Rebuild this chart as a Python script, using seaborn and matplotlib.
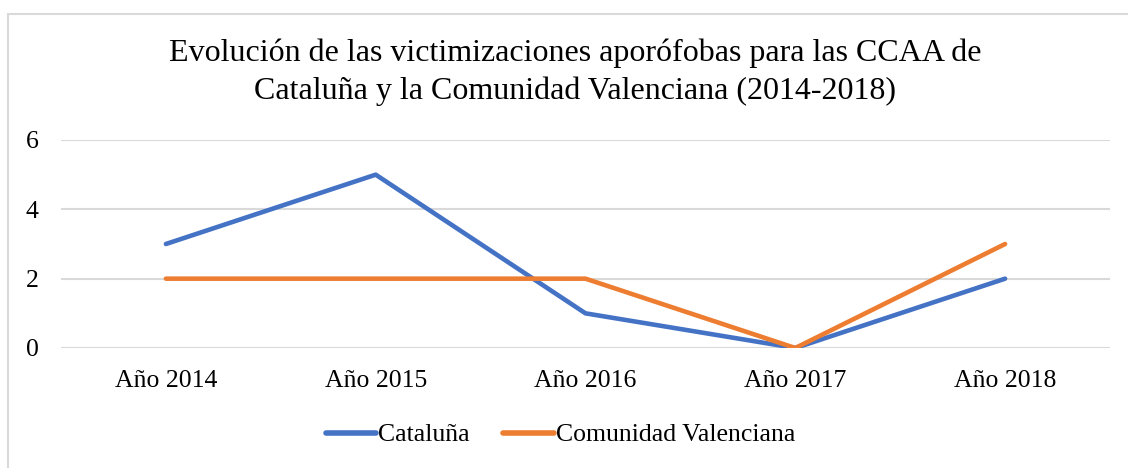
import matplotlib
matplotlib.use("Agg")
import matplotlib.pyplot as plt
import matplotlib.patches as mpatches
import pandas as pd
import seaborn as sns

# data
years = ["Año 2014", "Año 2015", "Año 2016", "Año 2017", "Año 2018"]
cataluna = [3, 5, 1, 0, 2]
valenciana = [2, 2, 2, 0, 3]
series_names = ["Cataluña", "Comunidad Valenciana"]
yticks = [0, 2, 4, 6]

df = pd.DataFrame({
    "year": years * 2,
    "value": cataluna + valenciana,
    "region": [series_names[0]] * len(years) + [series_names[1]] * len(years),
})

sns.set_style("white")
plt.rcParams["font.family"] = ["Liberation Serif", "DejaVu Serif"]
plt.rcParams["text.color"] = "black"

fig = plt.figure(figsize=(11.28, 4.68), dpi=100)
ax = fig.add_axes([61 / 1128, 1 - 348 / 468, (1110 - 61) / 1128, (348 - 140) / 468])

sns.lineplot(data=df, x="year", y="value", hue="region", sort=False,
             palette=["#4472C4", "#ED7D31"], linewidth=3.3, ax=ax, legend=False)

ax.set_xlim(-0.5, len(years) - 0.5)
ax.set_ylim(0, 6)
ax.set_yticks(yticks)
ax.set_xlabel("")
ax.set_ylabel("")
for s in ax.spines.values():
    s.set_visible(False)
ax.yaxis.grid(True, color="#d9d9d9", linewidth=1.5)
ax.set_axisbelow(True)
ax.tick_params(axis="both", length=0, labelsize=18.5, colors="black")
ax.tick_params(axis="x", pad=16)
ax.tick_params(axis="y", pad=16)

fig.text(0.51, 1 - 72 / 468,
         "Evolución de las victimizaciones aporófobas para las CCAA de\n"
         "Cataluña y la Comunidad Valenciana (2014-2018)",
         ha="center", va="center", fontsize=23, linespacing=1.36, color="black")

handles = [plt.Line2D([], [], color=c, linewidth=4, solid_capstyle="round")
           for c in ["#4472C4", "#ED7D31"]]
fig.legend(handles, series_names, loc="center", bbox_to_anchor=(0.497, 1 - 435 / 468),
           ncol=2, frameon=False, fontsize=18.5, handlelength=1.95,
           handletextpad=0.1, columnspacing=1.3)

# light chart-area border
fig.patches.append(mpatches.Rectangle((8 / 1128, -0.1), 1.2, 1 - 14 / 468 + 0.1,
                                      transform=fig.transFigure, fill=False,
                                      edgecolor="#d9d9d9", linewidth=1.5))

fig.savefig("out.png", dpi=100)
